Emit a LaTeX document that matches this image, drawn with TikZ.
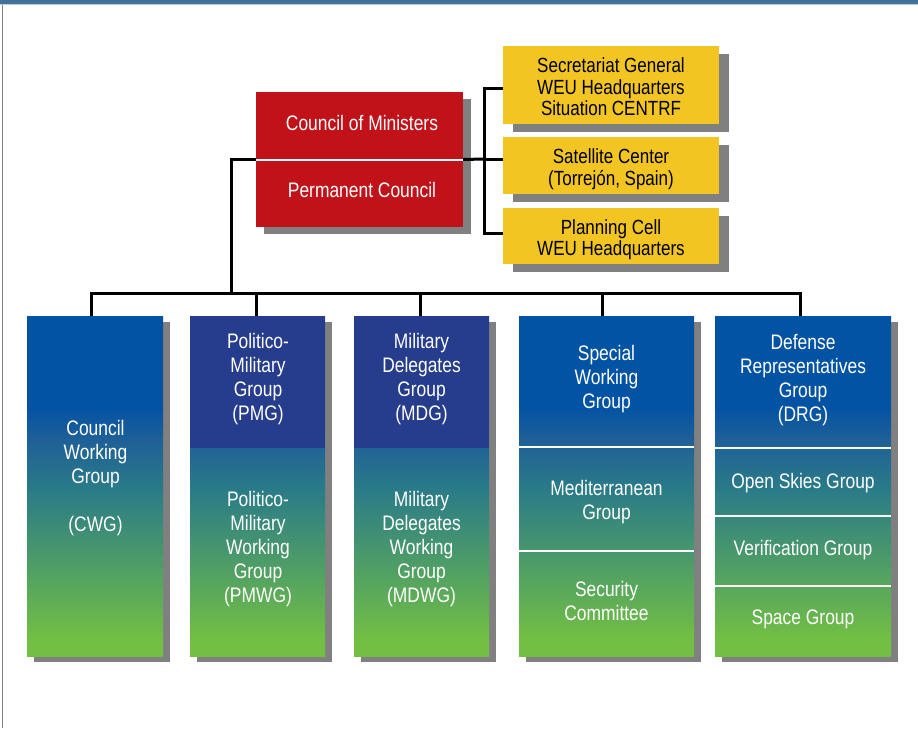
\documentclass[tikz,border=0pt]{standalone}
\usepackage{fontspec}
\setmainfont{Liberation Sans}[FakeStretch=0.83]
\usetikzlibrary{shadows,calc}
\definecolor{barblue}{HTML}{41709A}
\definecolor{barlight}{HTML}{B8CCDA}
\definecolor{redbox}{HTML}{C1121A}
\definecolor{yel}{HTML}{F2C522}
\definecolor{shad}{HTML}{808080}
\definecolor{navy}{HTML}{263C8C}
\definecolor{gblue}{HTML}{0353A4}
\definecolor{gmid}{HTML}{1F6097}
\definecolor{gteal}{HTML}{2A7B88}
\definecolor{ggreen}{HTML}{72BF44}
\pgfdeclareverticalshading{colgrad}{100bp}{color(0bp)=(ggreen); color(27.5bp)=(ggreen); color(49.5bp)=(gteal); color(56.8bp)=(gmid); color(61.5bp)=(gblue); color(100bp)=(gblue)}
\begin{document}
\begin{tikzpicture}[x=1pt,y=-1pt,
  conn/.style={draw=black, line width=3pt, line join=miter},
  boxbase/.style={anchor=north west, inner sep=0pt, outer sep=0pt},
  redbx/.style={boxbase, fill=redbox, minimum width=207pt, minimum height=135pt,
    drop shadow={shadow xshift=7.5pt, shadow yshift=-6.5pt, fill=shad, opacity=1}},
  yelbx/.style={boxbase, fill=yel, minimum width=216pt,
    drop shadow={shadow xshift=10pt, shadow yshift=-8pt, fill=shad, opacity=1}},
  colbx/.style={boxbase, shade, shading=colgrad, minimum height=340pt,
    drop shadow={shadow xshift=7pt, shadow yshift=-5.5pt, fill=shad, opacity=1}},
  navybx/.style={boxbase, fill=navy, minimum height=132pt},
  wtext/.style={text=white, font=\fontsize{21pt}{24pt}\selectfont, align=center, inner sep=0pt},
  btext/.style={text=black, font=\fontsize{20.5pt}{21.5pt}\selectfont, align=center, inner sep=0pt},
  divider/.style={draw=white, line width=2pt}
]
\useasboundingbox (0,0) rectangle (918,728);
\fill[white] (0,0) rectangle (918,728);
% frame
\fill[barblue] (0,0) rectangle (918,4);
\fill[barlight] (0,4) rectangle (918,5.3);
\draw[shad, line width=1pt] (2.3,5) -- (2.3,728);

% boxes
\node[redbx] (council) at (256,92) {};
\node[yelbx, minimum height=78pt] (sec) at (503,46) {};
\node[yelbx, minimum height=57pt] (sat) at (503,137) {};
\node[yelbx, minimum height=56pt] (plan) at (503,208) {};

\node[colbx, minimum width=136pt] (cwg) at (27,316) {};
\node[colbx, minimum width=135pt] (pmg) at (190,316) {};
\node[colbx, minimum width=135pt] (mdg) at (354,316) {};
\node[colbx, minimum width=175pt] (swg) at (519,316) {};
\node[colbx, minimum width=176pt] (drg) at (715,316) {};
\node[navybx, minimum width=135pt] (pmgtop) at (pmg.north west) {};
\node[navybx, minimum width=135pt] (mdgtop) at (mdg.north west) {};

% dividers
\draw[divider] (council.west) -- (council.east);
\draw[divider] (swg.west |- 0,447) -- (swg.east |- 0,447);
\draw[divider] (swg.west |- 0,551.3) -- (swg.east |- 0,551.3);
\draw[divider] (drg.west |- 0,447.7) -- (drg.east |- 0,447.7);
\draw[divider] (drg.west |- 0,516.3) -- (drg.east |- 0,516.3);
\draw[divider] (drg.west |- 0,586.3) -- (drg.east |- 0,586.3);

% texts
\node[wtext] (tcom) at (362,123.3) {Council of Ministers};
\node[wtext] (tpc) at (362,189.5) {Permanent Council};
\node[btext] (tsec) at (611,86.8) {Secretariat General\\WEU Headquarters\\Situation CENTRF};
\node[btext] (tsat) at (611,169) {Satellite Center\\(Torrejón, Spain)};
\node[btext] (tplan) at (611,239.5) {Planning Cell\\WEU Headquarters};

\node[wtext] (tcwg) at (95.5,478.2) {Council\\Working\\Group\\[24pt](CWG)};
\node[wtext] (tpmg) at (258,379) {Politico-\\Military\\Group\\(PMG)};
\node[wtext] (tpmwg) at (258,549) {Politico-\\Military\\Working\\Group\\(PMWG)};
\node[wtext] (tmdg) at (421.5,379) {Military\\Delegates\\Group\\(MDG)};
\node[wtext] (tmdwg) at (421.5,549) {Military\\Delegates\\Working\\Group\\(MDWG)};
\node[wtext] (tswg) at (606.5,379) {Special\\Working\\Group};
\node[wtext] (tmed) at (606.5,502.5) {Mediterranean\\Group};
\node[wtext] (tsecc) at (606.5,601) {Security\\Committee};
\node[wtext] (tdrg) at (803,380.5) {Defense\\Representatives\\Group\\(DRG)};
\node[wtext] (tosg) at (803,483) {Open Skies Group};
\node[wtext] (tvg) at (803,549.7) {Verification Group};
\node[wtext] (tsg) at (803,619.4) {Space Group};

% connectors
\coordinate (lt) at (231.5,293);
\coordinate (rt) at (484,159);
\coordinate (d1) at (91,293);
\coordinate (d2) at (256,293);
\coordinate (d3) at (420,293);
\coordinate (d4) at (602,293);
\coordinate (d5) at (800,293);
\draw[conn] (council.west) -| (lt);
\draw[conn] (council.east) -- (rt);
\draw[conn] ([yshift=-3pt]sec.west) -| (rt) |- ([yshift=3pt]plan.west);
\draw[conn] (rt) -- (sat.west |- rt);
\draw[conn] (d1 |- cwg.north) -- (d1) -- (d5) -- (d5 |- drg.north);
\draw[conn] (d2) -- (d2 |- pmg.north);
\draw[conn] (d3) -- (d3 |- mdg.north);
\draw[conn] (d4) -- (d4 |- swg.north);
\end{tikzpicture}
\end{document}
